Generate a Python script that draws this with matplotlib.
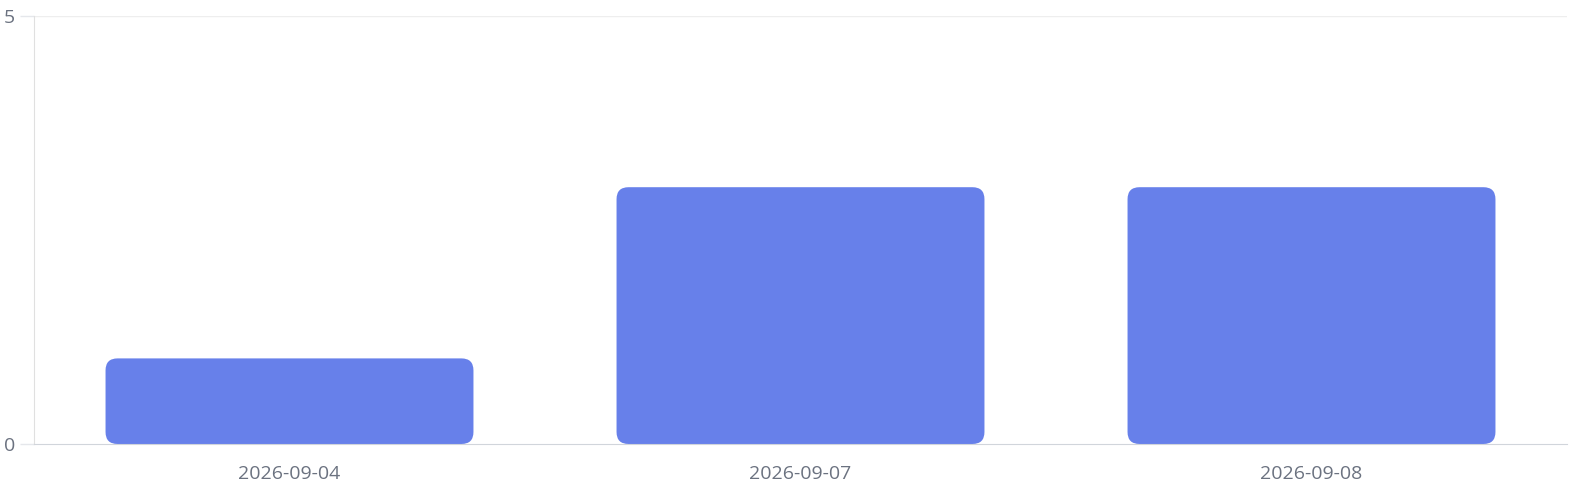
import matplotlib.pyplot as plt
from matplotlib.patches import FancyBboxPatch

# dati
dates = ["2026-09-04", "2026-09-07", "2026-09-08"]
counts = [1, 3, 3]
y_ticks = [0, 5]

plt.rcParams["font.family"] = ["Open Sans", "DejaVu Sans"]

fig = plt.figure(figsize=(15.77, 4.95), dpi=100)
ax = fig.add_axes([34 / 1577, 51 / 495, 1533 / 1577, 428 / 495])

bars = ax.bar(range(len(dates)), counts, width=0.72, color="#6780ea")
ax.set_xlim(-0.5, len(dates) - 0.5)
ax.set_ylim(0, 5)

# angoli arrotondati
px_x = (len(dates)) / 1533
px_y = 5 / 428
for b in bars:
    x, y = b.get_x(), b.get_y()
    w, h = b.get_width(), b.get_height()
    b.remove()
    p = FancyBboxPatch((x, y), w, h,
                       boxstyle="round,pad=0,rounding_size=%f" % (12 * px_x),
                       mutation_aspect=px_y / px_x,
                       facecolor="#6780ea", edgecolor="none")
    ax.add_patch(p)

ax.set_xticks(range(len(dates)))
ax.set_xticklabels(dates)
ax.set_yticks(y_ticks)
ax.tick_params(axis="x", length=0, pad=15, labelsize=14, labelcolor="#6b7280")
ax.tick_params(axis="y", length=10, width=1, color="#e5e7eb", pad=3.5,
               labelsize=14, labelcolor="#6b7280")
ax.axhline(5, color="#eeeeee", linewidth=1, zorder=0)

for s in ["top", "right"]:
    ax.spines[s].set_visible(False)
ax.spines["left"].set_color("#e0e0e0")
ax.spines["bottom"].set_color("#d1d5db")

fig.savefig("out.png", dpi=100)
